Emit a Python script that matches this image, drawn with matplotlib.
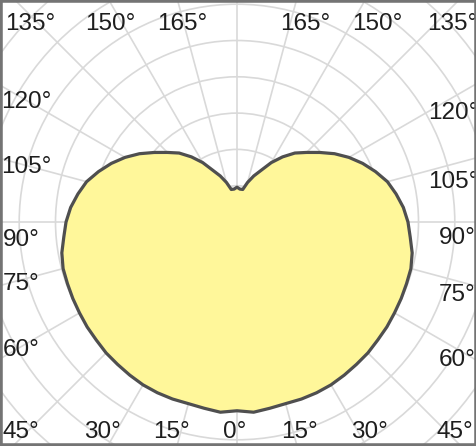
import numpy as np
import matplotlib
matplotlib.use("Agg")
import matplotlib.pyplot as plt
from matplotlib.patches import Rectangle

# Photometric distribution (gamma angle in degrees, intensity in arbitrary units,
# grid circle spacing = 100)
gamma = [0, 5, 10, 15, 20, 25, 30, 35, 40, 45, 50, 55, 60, 65, 70, 75, 80, 85, 90,
         95, 100, 105, 110, 115, 120, 125, 130, 135, 140, 145, 150, 155, 160, 165,
         170, 175, 180]
intensity_c0 = [520, 526, 521, 518, 519, 519, 518, 515, 512, 510, 506, 504, 501, 499,
                497, 496, 490, 479, 471, 460, 445, 429, 406, 382, 356, 328, 298, 271,
                248, 219, 189, 157, 135, 113, 91, 91, 96]
intensity_c180 = intensity_c0

angle_labels_top = ["135°", "150°", "165°", "165°", "150°", "135°"]
angle_labels_left = ["120°", "105°", "90°", "75°", "60°"]
angle_labels_right = ["120°", "105°", "90°", "75°", "60°"]
angle_labels_bottom = ["45°", "30°", "15°", "0°", "15°", "30°", "45°"]

W, H = 477, 446
fig = plt.figure(figsize=(W / 100, H / 100), dpi=100)
fig.patch.set_facecolor("white")

cx, cy = 237, 222          # centre in pixels from top-left
R = 340                    # axes radius in pixels
px_per_unit = 0.363
ax = fig.add_axes([(cx - R) / W, (H - cy - R) / H, 2 * R / W, 2 * R / H],
                  projection="polar")
ax.set_theta_zero_location("S")
ax.set_theta_direction(1)
ax.set_ylim(0, R / px_per_unit)
ax.set_rticks(np.arange(100, 1000, 100))
ax.set_yticklabels([])
ax.set_thetagrids(np.arange(0, 360, 15), labels=[])
ax.grid(True, color="#d9d9d9", lw=1.2)
ax.spines["polar"].set_visible(False)
ax.set_axisbelow(True)
ax.set_facecolor("white")

g = np.array(gamma, dtype=float)
right_t = np.deg2rad(g)
left_t = np.deg2rad(-g[::-1])
theta = np.concatenate([right_t, left_t])
rr = np.concatenate([np.array(intensity_c0), np.array(intensity_c180)[::-1]])
ax.fill(theta, rr, facecolor="#fff79a", edgecolor="#4f4f4f", lw=2.3,
        joinstyle="round", zorder=5)

def put(txt, x, y):
    fig.text(x / W, 1 - y / H, txt, ha="center", va="center",
             fontsize=17.5, family=["Liberation Sans Narrow", "Liberation Sans"],
             color="#1e1e1e")

for t, x in zip(angle_labels_top, [30, 110, 182, 305, 377, 452]):
    put(t, x, 24)
for t, y in zip(angle_labels_left, [102, 167, 240, 284, 350]):
    put(t, 26 if len(t) > 3 else 21, y)
for t, y in zip(angle_labels_right, [113, 182, 238, 295, 360]):
    put(t, 453 if len(t) > 3 else 457, y)
for t, x in zip(angle_labels_bottom, [21, 103, 172, 235, 300, 370, 455]):
    put(t, x, 432)

# frame
fig.patches.append(Rectangle((0, 0), 1, 1, transform=fig.transFigure, fill=False,
                             ec="#747474", lw=4, zorder=20))
fig.savefig("out.png", dpi=100)
